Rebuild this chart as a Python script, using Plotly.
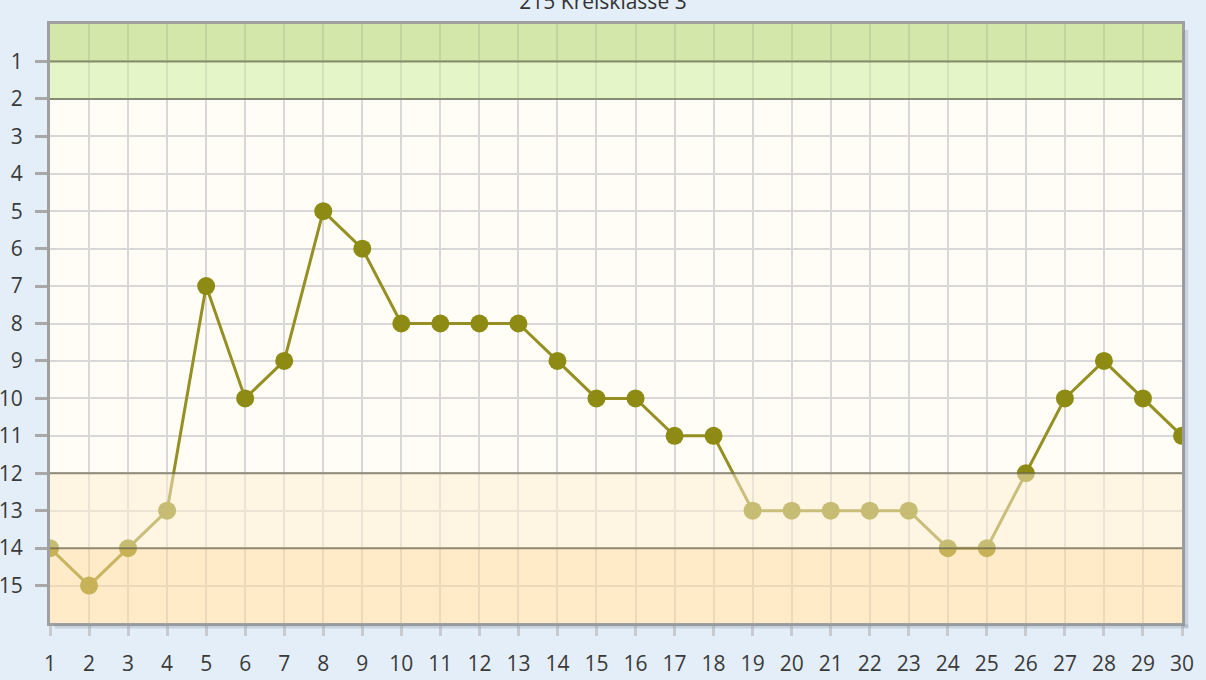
import plotly.graph_objects as go

# Spieltag / Tabellenplatz
matchdays = list(range(1, 31))
positions = [14, 15, 14, 13, 7, 10, 9, 5, 6, 8, 8, 8, 8, 9, 10,
             10, 11, 11, 13, 13, 13, 13, 13, 14, 14, 12, 10, 9, 10, 11]
rank_ticks = list(range(1, 16))

# zones: (from, to, colour) - drawn over the data with transparency
zones = [
    (0, 1, "rgba(169,209,97,0.5)"),
    (1, 2, "rgba(201,237,153,0.5)"),
    (12, 14, "rgba(255,237,209,0.5)"),
    (14, 16, "rgba(255,217,155,0.5)"),
]
zone_lines = [1, 2, 12, 14]

fig = go.Figure()

fig.add_trace(go.Scatter(
    x=matchdays,
    y=positions,
    mode="lines+markers",
    line=dict(color="#958F24", width=3),
    marker=dict(color="#8E8B14", size=18),
    hoverinfo="x+y",
    showlegend=False,
))

for y0, y1, col in zones:
    fig.add_shape(type="rect", xref="paper", yref="y", x0=0, x1=1, y0=y0, y1=y1,
                  fillcolor=col, line_width=0, layer="above")

for yv in zone_lines:
    fig.add_shape(type="line", xref="paper", yref="y", x0=0, x1=1, y0=yv, y1=yv,
                  line=dict(color="rgba(95,95,70,0.65)", width=2), layer="above")

# soft shadow right / bottom of the plot frame
fig.add_shape(type="rect", xref="paper", yref="paper", x0=1.001, x1=1.0055,
              y0=-0.008, y1=0.99, fillcolor="rgba(120,130,150,0.25)", line_width=0)
fig.add_shape(type="rect", xref="paper", yref="paper", x0=0.004, x1=1.0055,
              y0=-0.009, y1=-0.002, fillcolor="rgba(120,130,150,0.25)", line_width=0)

fig.update_layout(
    width=1206,
    height=680,
    paper_bgcolor="#E4EEF9",
    plot_bgcolor="#FFFDF5",
    margin=dict(l=50, r=24, t=24, b=57),
    font=dict(family="Open Sans", size=21, color="#3A3A3A"),
    title=dict(text="215 Kreisklasse 3", x=0.5, xanchor="center",
               y=0.997, yanchor="middle", yref="container",
               font=dict(size=21, color="#333333")),
)

fig.update_xaxes(
    range=[1, 30],
    tickvals=matchdays,
    showgrid=True, gridcolor="#D8D8D8", gridwidth=2,
    ticks="outside", ticklen=10, tickwidth=3, tickcolor="#C8CCD2",
    ticklabelstandoff=10,
    showline=True, linecolor="#A0A0A0", linewidth=3, mirror=True,
    zeroline=False, fixedrange=True, automargin=False,
)

fig.update_yaxes(
    range=[16, 0],
    tickvals=rank_ticks,
    showgrid=True, gridcolor="#D8D8D8", gridwidth=2,
    ticks="outside", ticklen=12, tickwidth=3, tickcolor="#A8A8A8",
    ticklabelstandoff=8,
    showline=True, linecolor="#A0A0A0", linewidth=3, mirror=True,
    zeroline=False, fixedrange=True, automargin=False,
)

fig.write_html("out.html", config={"displayModeBar": False},
               post_script="document.body.style.margin='0';")
